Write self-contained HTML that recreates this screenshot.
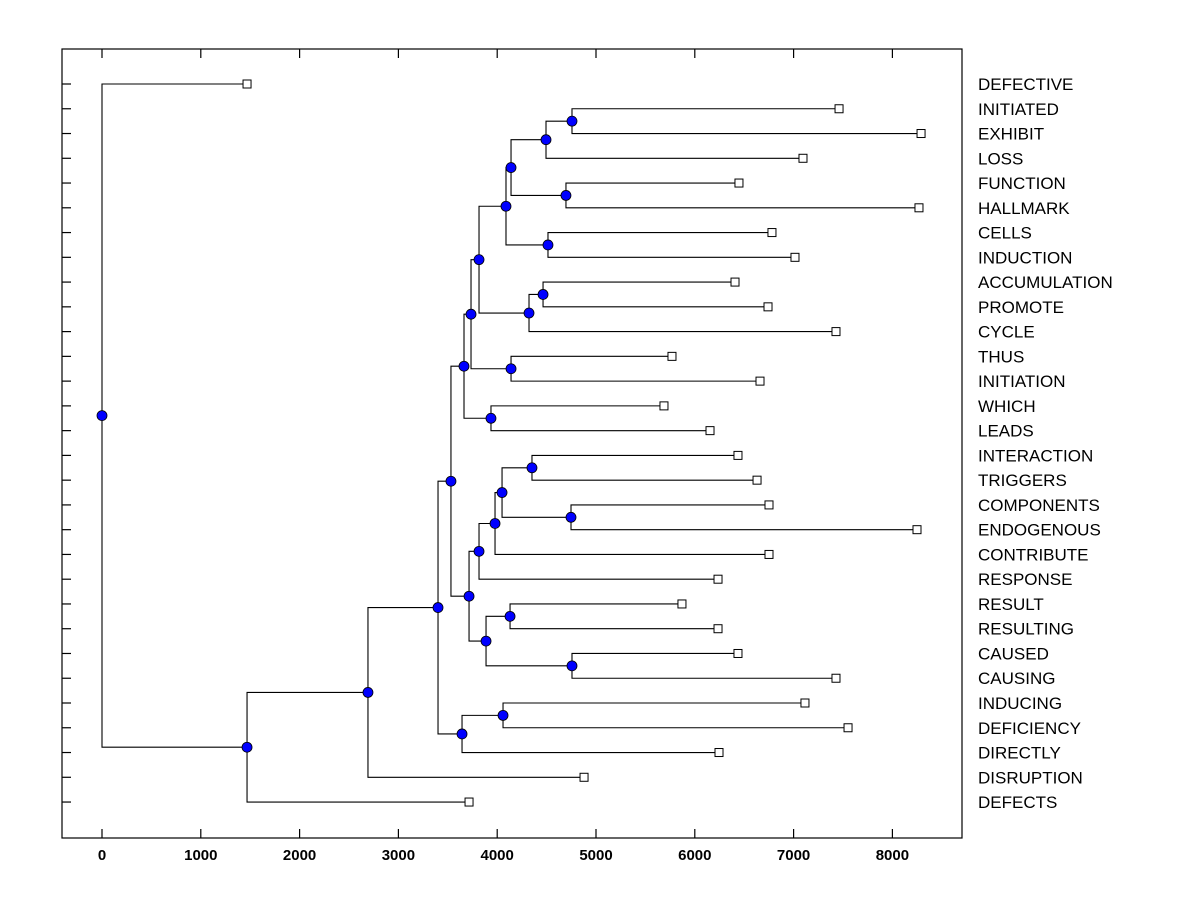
<!DOCTYPE html>
<html><head><meta charset="utf-8"><style>body{margin:0;background:#fff}svg{display:block}</style></head>
<body>
<svg id="chart" width="1200" height="900" font-family="Liberation Sans, Arial, sans-serif"></svg>
<script>
// leaf labels and their heights (top to bottom)
const leafNames = ["DEFECTIVE","INITIATED","EXHIBIT","LOSS","FUNCTION","HALLMARK","CELLS","INDUCTION","ACCUMULATION","PROMOTE","CYCLE","THUS","INITIATION","WHICH","LEADS","INTERACTION","TRIGGERS","COMPONENTS","ENDOGENOUS","CONTRIBUTE","RESPONSE","RESULT","RESULTING","CAUSED","CAUSING","INDUCING","DEFICIENCY","DIRECTLY","DISRUPTION","DEFECTS"];
const leafValues = [1468,7460,8290,7095,6447,8269,6781,7014,6407,6741,7429,5769,6660,5688,6154,6437,6630,6751,8249,6751,6235,5870,6235,6437,7429,7115,7551,6245,4879,3715];
// merges: [id, value, childA, childB]; children are leaf indices (numbers) or node ids (strings)
const merges = [
 ["S",4757,1,2],["Q",4494,"S",3],["R",4696,4,5],["O",4140,"Q","R"],["P",4514,6,7],["M",4089,"O","P"],
 ["T",4464,8,9],["N",4322,"T",10],["K",3816,"M","N"],["L",4140,11,12],["I",3735,"K","L"],["J",3937,13,14],["G",3664,"I","J"],
 ["Y",4352,15,16],["Z",4747,17,18],["X",4049,"Y","Z"],["W",3978,"X",19],["U",3816,"W",20],
 ["AA",4130,21,22],["BB",4757,23,24],["V",3887,"AA","BB"],["H",3715,"U","V"],["D",3532,"G","H"],
 ["F",4059,25,26],["E",3644,"F",27],["C",3401,"D","E"],["B",2692,"C",28],["A",1468,"B",29],["ROOT",0,0,"A"]
];
const xTicks = [0,1000,2000,3000,4000,5000,6000,7000,8000];

const svg = document.getElementById('chart');
const NS = "http://www.w3.org/2000/svg";
const L=62,R=962,T=49,B=838;
const xs = v => 102 + v*0.0988;
const ys = i => 84 + i*24.76;
function mk(tag, attrs, name, parent){
  const e=document.createElementNS(NS,tag);
  for(const k in attrs) e.setAttribute(k,attrs[k]);
  
  
  (parent||svg).appendChild(e); return e;
}
mk('rect',{x:L,y:T,width:R-L,height:B-T,fill:'none',stroke:'#000','stroke-width':1.2},'plot-frame');
xTicks.forEach(t=>{
  const x=xs(t);
  mk('line',{x1:x,x2:x,y1:T,y2:T+9,stroke:'#000','stroke-width':1.2},'x-tick-top');
  mk('line',{x1:x,x2:x,y1:B,y2:B-9,stroke:'#000','stroke-width':1.2},'x-tick-bottom');
  const tx=mk('text',{x:x,y:860,'text-anchor':'middle','font-size':15,'font-weight':'bold',fill:'#000'},'x-tick-label');
  tx.textContent=t;
});
leafNames.forEach((n,i)=>{
  mk('line',{x1:L,x2:L+9,y1:ys(i),y2:ys(i),stroke:'#000','stroke-width':1.2},'y-tick');
  const tx=mk('text',{x:978,y:ys(i)+6,'font-size':17,fill:'#000'},'leaf-label');
  tx.textContent=n;
});
const pos={};
leafValues.forEach((v,i)=>pos[i]={x:xs(v),y:ys(i)});
const lines=mk('g',{stroke:'#000','stroke-width':1.1,fill:'none'},'branches');
const nodes=[];
merges.forEach(m=>{
  const [id,v,a,b]=m; const pa=pos[a],pb=pos[b]; const x=xs(v);
  const y=(pa.y+pb.y)/2; pos[id]={x,y};
  mk('path',{d:`M${pa.x},${pa.y}H${x}V${pb.y}H${pb.x}`},'branch-'+id,lines);
  nodes.push(pos[id]);
});
leafValues.forEach((v,i)=>{
  mk('rect',{x:pos[i].x-4,y:pos[i].y-4,width:8,height:8,fill:'#fff',stroke:'#000'},'leaf-marker');
});
nodes.forEach(p=>{
  mk('circle',{cx:p.x,cy:p.y,r:5,fill:'#0000ff',stroke:'#000','stroke-width':0.8},'merge-node');
});
</script>
</body></html>
